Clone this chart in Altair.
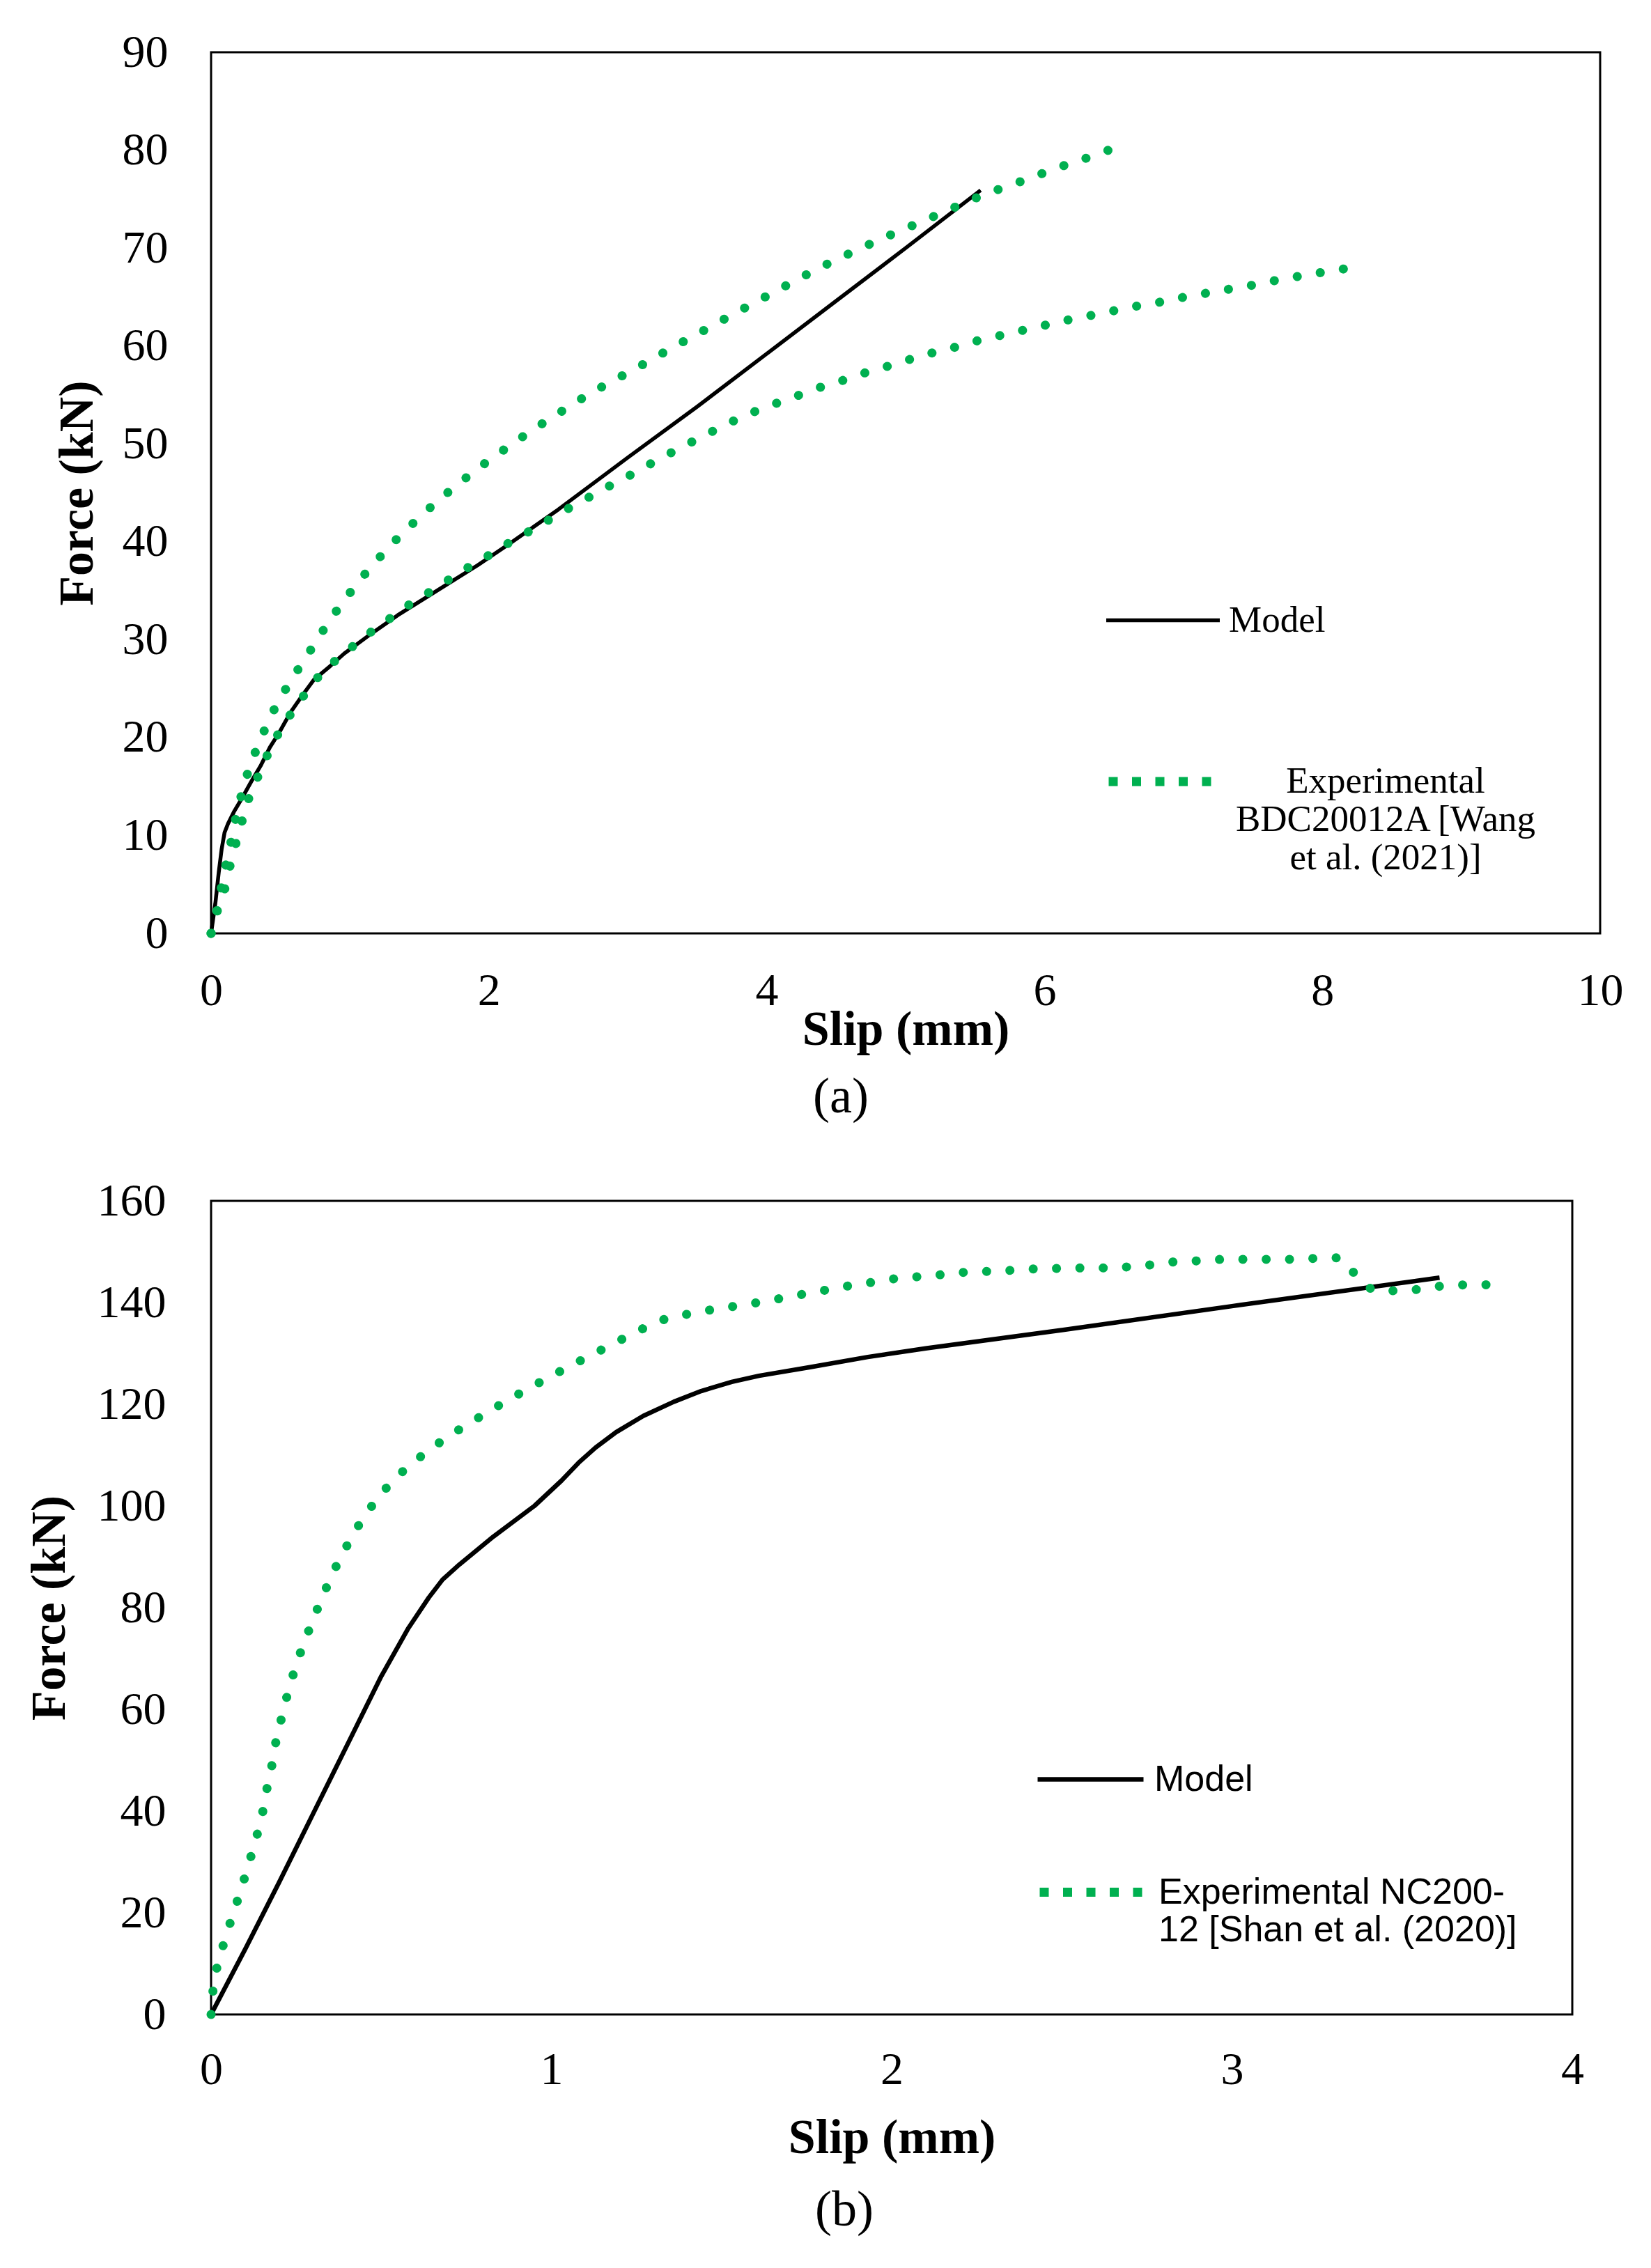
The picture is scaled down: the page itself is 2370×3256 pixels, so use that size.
import altair as alt
import pandas as pd

# ---------------- Panel (a) data ----------------
A_MODEL_SLIP = [0, 0.031, 0.055, 0.076, 0.097, 0.122, 0.164, 0.222, 0.289, 0.356, 0.423, 0.49,
                0.573, 0.657, 0.74, 0.857, 0.96, 1.152, 1.344, 1.535, 1.727, 1.919, 2.149, 2.5,
                3.0, 3.5, 4.0, 4.5, 5.0, 5.54]
A_MODEL_FORCE = [0, 3.1, 6.2, 8.6, 10.3, 11.2, 12.4, 13.8, 15.5, 17.1, 19.0, 20.5,
                 22.6, 24.3, 25.9, 27.3, 28.6, 30.6, 32.5, 34.2, 35.9, 37.6, 39.8, 43.3,
                 48.6, 53.8, 59.2, 64.6, 70.0, 75.9]

A_EXP1_SLIP = [0, 0.019, 0.055, 0.085, 0.122, 0.159, 0.189, 0.236, 0.281, 0.348, 0.414, 0.489,
               0.577, 0.665, 0.757, 0.845, 0.945, 1.045, 1.152, 1.267, 1.382, 1.505, 1.631,
               1.758, 1.892, 2.026, 2.16, 2.302, 2.44, 2.582, 2.724, 2.869, 3.019, 3.165, 3.31,
               3.452, 3.605, 3.751, 3.9, 4.05, 4.203, 4.345, 4.495, 4.649, 4.80, 4.954, 5.112,
               5.266, 5.416, 5.571, 5.729, 5.887, 6.042, 6.204, 6.362, 6.524]
A_EXP1_FORCE = [0, 0.77, 2.9, 5.75, 7.89, 10.38, 12.63, 15.0, 17.26, 19.5, 21.8, 23.8,
                25.9, 27.8, 29.83, 31.8, 33.77, 35.62, 37.46, 39.24, 40.96, 42.54, 44.19,
                45.65, 47.18, 48.58, 49.91, 51.31, 52.58, 53.85, 55.12, 56.26, 57.41, 58.55, 59.76,
                60.84, 62.04, 63.19, 64.33, 65.47, 66.66, 67.72, 68.78, 69.79, 70.78, 71.73, 72.68,
                73.62, 74.56, 75.51, 76.28, 77.1, 77.93, 78.75, 79.46, 80.35]

A_EXP2_SLIP = [0, 0.039, 0.102, 0.139, 0.181, 0.226, 0.273, 0.339, 0.409, 0.486, 0.573, 0.673,
               0.777, 0.899, 1.026, 1.156, 1.294, 1.432, 1.577, 1.716, 1.857, 1.996, 2.141,
               2.291, 2.436, 2.582, 2.731, 2.877, 3.023, 3.168, 3.318, 3.464, 3.613, 3.766,
               3.919, 4.069, 4.232, 4.39, 4.552, 4.71, 4.869, 5.031, 5.189, 5.352, 5.514, 5.676,
               5.839, 6.001, 6.163, 6.334, 6.496, 6.658, 6.829, 6.991, 7.153, 7.316, 7.486,
               7.648, 7.811, 7.981, 8.143, 8.314]
A_EXP2_FORCE = [0, 2.2, 4.68, 7.06, 9.31, 11.64, 13.87, 16.07, 18.33, 20.46, 22.4, 24.4,
                26.3, 27.92, 29.38, 30.84, 32.23, 33.63, 34.9, 36.17, 37.44, 38.59, 39.86,
                41.07, 42.27, 43.48, 44.63, 45.77, 46.85, 48.0, 49.14, 50.22, 51.3, 52.38,
                53.33, 54.14, 54.97, 55.8, 56.5, 57.27, 57.92, 58.63, 59.28, 59.86, 60.52, 61.05,
                61.58, 62.11, 62.64, 63.12, 63.59, 64.06, 64.47, 64.95, 65.36, 65.77, 66.18,
                66.65, 67.07, 67.48, 67.84, 68.31]

A_SERIES = ["Model", "Experimental BDC20012A [Wang et al. (2021)]"]
A_X_TICKS = [0, 2, 4, 6, 8, 10]
A_Y_TICKS = [0, 10, 20, 30, 40, 50, 60, 70, 80, 90]

# ---------------- Panel (b) data ----------------
B_MODEL_SLIP = [0, 0.1, 0.2, 0.3, 0.4, 0.5, 0.58, 0.64, 0.68, 0.73, 0.83, 0.95, 1.03, 1.08,
                1.13, 1.19, 1.27, 1.36, 1.44, 1.53, 1.61, 1.76, 1.93, 2.1, 2.5, 3.0, 3.61]
B_MODEL_FORCE = [0, 12.8, 26, 39.5, 53, 66.5, 76, 82, 85.5, 88.5, 94, 100, 105, 108.5,
                 111.5, 114.5, 117.7, 120.5, 122.6, 124.4, 125.6, 127.3, 129.3, 131, 134.6, 139.3, 144.9]

B_EXP_SLIP = [0, 0.0055, 0.017, 0.036, 0.057, 0.078, 0.099, 0.119, 0.138, 0.154, 0.166, 0.181,
              0.192, 0.209, 0.226, 0.246, 0.268, 0.294, 0.32, 0.347, 0.377, 0.41, 0.447, 0.488,
              0.532, 0.585, 0.639, 0.697, 0.755, 0.816, 0.877, 0.938, 0.999, 1.062, 1.122, 1.183,
              1.245, 1.308, 1.376, 1.444, 1.512, 1.58, 1.649, 1.719, 1.787, 1.856, 1.926, 1.995,
              2.061, 2.133, 2.201, 2.27, 2.342, 2.411, 2.481, 2.55, 2.618, 2.69, 2.759, 2.829,
              2.896, 2.968, 3.038, 3.107, 3.178, 3.248, 3.316, 3.362, 3.411, 3.48, 3.55, 3.619,
              3.691, 3.772]
B_EXP_FORCE = [0, 4.6, 9.2, 13.7, 18.2, 22.5, 27.0, 31.5, 36.0, 40.5, 45.1, 49.7,
               54.3, 58.8, 63.4, 67.9, 72.2, 76.7, 81, 85.2, 89.5, 93.5, 97.7, 101.4,
               104.9, 108.1, 110.9, 113.7, 116.1, 118.6, 121, 123.3, 125.5, 127.8, 129.8, 132,
               134, 136.3, 137.4, 138.3, 139, 139.7, 140.5, 141.4, 142.2, 143.1, 143.8, 144.6,
               145.0, 145.4, 145.9, 146.1, 146.3, 146.6, 146.7, 146.8, 146.8, 147.0, 147.4, 148.0,
               148.2, 148.5, 148.5, 148.5, 148.5, 148.7, 148.8, 145.6, 142.5, 142.3, 142.6, 143.3,
               143.5, 143.5]

B_SERIES = ["Model", "Experimental NC200-12 [Shan et al. (2020)]"]
B_X_TICKS = [0, 1, 2, 3, 4]
B_Y_TICKS = [0, 20, 40, 60, 80, 100, 120, 140, 160]

GREEN = "#00B050"
SERIF = "Liberation Serif"
SANS = "Liberation Sans"

# legend label lines as wrapped in the reference
A_LABEL_LINES = ["Experimental", "BDC20012A [Wang", "et al. (2021)]"]
B_LABEL_LINES = ["Experimental NC200-", "12 [Shan et al. (2020)]"]


def js_list(lines):
    return "[" + ", ".join("'" + s + "'" for s in lines) + "]"


# ---------------- build tables ----------------
a_model = pd.DataFrame({"slip": A_MODEL_SLIP, "force": A_MODEL_FORCE, "series": A_SERIES[0], "branch": "m"})
a_exp = pd.concat([
    pd.DataFrame({"slip": A_EXP1_SLIP, "force": A_EXP1_FORCE, "series": A_SERIES[1], "branch": "u"}),
    pd.DataFrame({"slip": A_EXP2_SLIP, "force": A_EXP2_FORCE, "series": A_SERIES[1], "branch": "l"}),
])
b_model = pd.DataFrame({"slip": B_MODEL_SLIP, "force": B_MODEL_FORCE, "series": B_SERIES[0]})
b_exp = pd.DataFrame({"slip": B_EXP_SLIP, "force": B_EXP_FORCE, "series": B_SERIES[1]})


def panel(model_df, exp_df, series, xdom, ydom, xticks, yticks, width, height, model_w,
          leg_model, leg_exp, xlabpad, ylabpad, xtitlepad, ytitlepad, caption, cap_dx, cap_off,
          use_detail):
    x = alt.X("slip:Q", scale=alt.Scale(domain=xdom, nice=False),
              axis=alt.Axis(values=xticks, format="d", title="Slip (mm)", grid=False, domain=False,
                            ticks=False, tickSize=0, labelFont=SERIF, labelFontSize=66,
                            labelColor="black", labelPadding=xlabpad, titleFont=SERIF,
                            titleFontSize=70, titleFontWeight="bold", titleColor="black",
                            titlePadding=xtitlepad, labelFlush=False))
    y = alt.Y("force:Q", scale=alt.Scale(domain=ydom, nice=False),
              axis=alt.Axis(values=yticks, format="d", title="Force (kN)", grid=False, domain=False,
                            ticks=False, tickSize=0, labelFont=SERIF, labelFontSize=66,
                            labelColor="black", labelPadding=ylabpad, titleFont=SERIF,
                            titleFontSize=70, titleFontWeight="bold", titleColor="black",
                            titlePadding=ytitlepad, labelFlush=False))
    color = alt.Color("series:N", title=None,
                      scale=alt.Scale(domain=series, range=["black", GREEN]), legend=leg_model)
    model_layer = alt.Chart(model_df).mark_line(strokeCap="butt", strokeJoin="round",
                                                strokeWidth=model_w).encode(x=x, y=y, color=color)
    enc = dict(x=x, y=y, color=color,
               opacity=alt.Opacity("series:N", title=None,
                                   scale=alt.Scale(domain=[series[1]], range=[1]), legend=leg_exp))
    if use_detail:
        enc["detail"] = "branch:N"
    exp_layer = alt.Chart(exp_df).mark_line(strokeCap="round", strokeJoin="round", strokeWidth=13,
                                            strokeDash=[0.1, 33.4]).encode(**enc)
    return alt.layer(model_layer, exp_layer).properties(
        width=width, height=height,
        title=alt.TitleParams(text=caption, orient="bottom", anchor="middle", frame="group",
                              offset=cap_off, dx=cap_dx, font=SERIF, fontSize=72,
                              fontWeight="normal", color="black"))


def model_legend(series, lx, ly, size, font, fsize, loff, sw):
    return alt.Legend(orient="none", legendX=lx, legendY=ly, values=[series[0]],
                      symbolType="stroke", symbolSize=size, symbolStrokeWidth=sw,
                      labelFont=font, labelFontSize=fsize, labelColor="black", labelOffset=loff,
                      labelAlign="left", labelBaseline="middle", padding=0, labelLimit=1000)


def exp_legend(lx, ly, size, font, fsize, loff, align, lines):
    return alt.Legend(orient="none", legendX=lx, legendY=ly, symbolType="stroke",
                      symbolSize=size, symbolStrokeWidth=13, symbolDash=[13, 20.5],
                      symbolStrokeColor=GREEN, symbolFillColor="transparent",
                      labelFont=font, labelFontSize=fsize, labelColor="black", labelOffset=loff,
                      labelAlign=align, labelBaseline="middle", padding=0, labelLimit=1000,
                      labelExpr=js_list(lines))


leg_a_model = model_legend(A_SERIES, 1282, 731, 26569, SERIF, 53, 10, 5.5)
leg_a_exp = exp_legend(1282, 959, 26569, SERIF, 53, 228, "center", A_LABEL_LINES)
leg_b_model = model_legend(B_SERIES, 1183, 751, 23104, SANS, 52, 12, 6.5)
leg_b_exp = exp_legend(1183, 910, 23104, SANS, 52, 12, "left", B_LABEL_LINES)

chart_a = panel(a_model, a_exp, A_SERIES, [0, 10], [0, 90], A_X_TICKS, A_Y_TICKS, 1994, 1265,
                5.5, leg_a_model, leg_a_exp, 50, 62, -11, 28, "(a)", -93, 27, True)
chart_b = panel(b_model, b_exp, B_SERIES, [0, 4], [0, 160], B_X_TICKS, B_Y_TICKS, 1954, 1168,
                6.5, leg_b_model, leg_b_exp, 47, 65, 31, 32, "(b)", -68, 34, False)

chart = alt.vconcat(chart_a, chart_b, spacing=76).resolve_scale(
    color="independent", opacity="independent"
).resolve_legend(
    color="independent", opacity="independent"
).properties(
    padding={"left": 26, "top": 32, "right": 5, "bottom": 5},
    background="white",
).configure_view(stroke="black", strokeWidth=3)

chart.save("out.html", embed_options={"renderer": "svg", "actions": False})
